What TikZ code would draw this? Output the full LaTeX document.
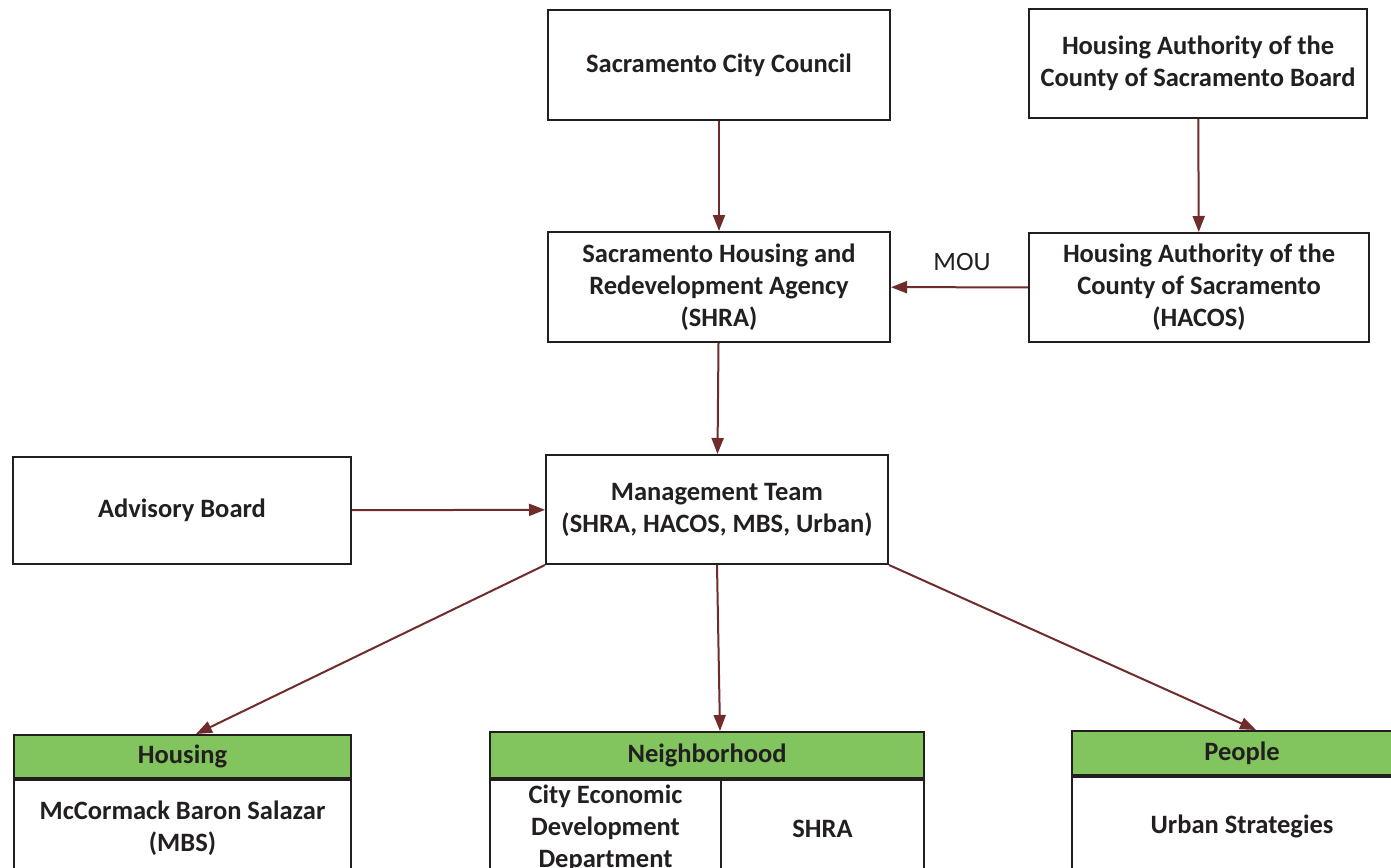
\documentclass[tikz,border=0pt]{standalone}
\usepackage{fontspec}
\setmainfont{Carlito}
\usetikzlibrary{arrows.meta}
\definecolor{arrowred}{RGB}{112,43,43}
\definecolor{headgreen}{RGB}{130,196,93}
\definecolor{inkgray}{RGB}{35,31,32}
\begin{document}
\begin{tikzpicture}[x=1pt,y=-1pt,
  box/.style={draw=inkgray,line width=2pt,fill=white,align=center,inner sep=0pt,
    text=inkgray,font=\bfseries\fontsize{26.5}{32}\selectfont},
  head/.style={box,fill=headgreen},
  link/.style={draw=arrowred,line width=2pt,-{Triangle[length=16pt,width=12pt]}}]
\useasboundingbox (0,0) rectangle (1391,867);
\clip (0,0) rectangle (1391,867);

\node[box,minimum width=342pt,minimum height=110pt] (council) at (719,65) {Sacramento City Council};
\node[box,minimum width=338pt,minimum height=109pt] (board) at (1198,63.5) {Housing Authority of the\\County of Sacramento Board};
\node[box,minimum width=342pt,minimum height=110pt] (shra) at (719,287) {Sacramento Housing and\\Redevelopment Agency\\(SHRA)};
\node[box,minimum width=340pt,minimum height=109pt] (hacos) at (1199,287.5) {Housing Authority of the\\County of Sacramento\\(HACOS)};
\node[box,minimum width=338pt,minimum height=107pt] (advisory) at (182,510.5) {Advisory Board};
\node[box,minimum width=342pt,minimum height=109pt] (team) at (717,509.5) {Management Team\\(SHRA, HACOS, MBS, Urban)};

\node[head,minimum width=337pt,minimum height=43pt] (housing) at (182.5,756.5) {Housing};
\node[box,minimum width=337pt,minimum height=97pt,anchor=north] (mbs) at (housing.south) {McCormack Baron Salazar\\(MBS)};

\node[head,minimum width=434pt,minimum height=46pt] (hood) at (707,755) {Neighborhood};
\node[box,minimum width=231pt,minimum height=97pt,anchor=north west] (econ) at (hood.south west) {City Economic\\Development\\Department};
\node[box,minimum width=203pt,minimum height=97pt,anchor=north east] (shrab) at (hood.south east) {SHRA};

\node[head,minimum width=340pt,minimum height=44pt] (people) at (1242,753) {People};
\node[box,minimum width=340pt,minimum height=98pt,anchor=north] (urban) at (people.south) {Urban Strategies};

\node[text=inkgray,font=\fontsize{26.5}{32}\selectfont] (mou) at (962,262) {MOU};

\draw[link] (council) -- (shra);
\draw[link] (board) -- (hacos);
\draw[link] (hacos) -- (shra);
\draw[link] (shra) -- (team);
\draw[link] (advisory) -- (team);
\draw[link] (team.south west) -- ([xshift=13.5pt]housing.north);
\draw[link] (team.south) -- ([xshift=13pt]hood.north);
\draw[link] (team.south east) -- ([xshift=14pt]people.north);
\end{tikzpicture}
\end{document}
